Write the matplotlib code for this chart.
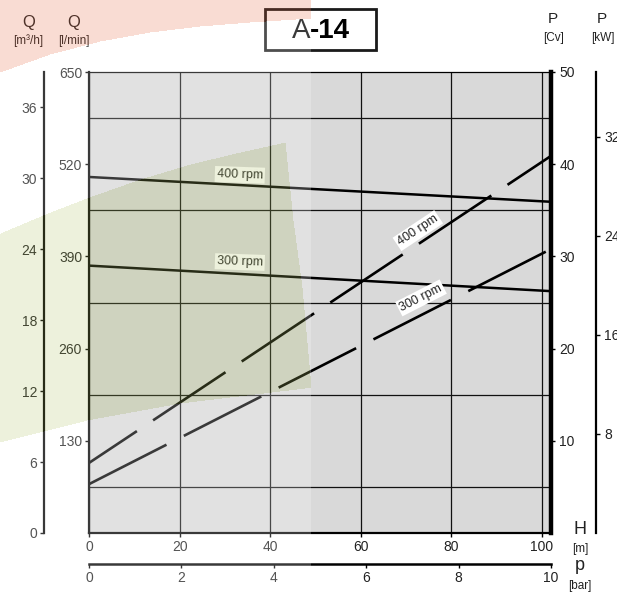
import numpy as np
import matplotlib
matplotlib.use("Agg")
import matplotlib.pyplot as plt
from matplotlib.patches import Rectangle

plt.rcParams["font.family"] = ["Liberation Sans", "DejaVu Sans"]
plt.rcParams["lines.scale_dashes"] = False

# --- data (curves are straight, so two ends each) ---
head_m = [0, 102]            # H [m] at left / right edge of the plot
flow_400 = [502, 467]        # Q [l/min]
flow_300 = [377, 341]
power_400 = [7.6, 40.9]      # P [Cv]
power_300 = [5.3, 30.8]

h_ticks = [0, 20, 40, 60, 80, 100]
p_ticks = [0, 2, 4, 6, 8, 10]
q_lmin_ticks = [130, 260, 390, 520, 650]
q_m3h_ticks = [0, 6, 12, 18, 24, 30, 36]
p_cv_ticks = [10, 20, 30, 40, 50]
p_kw_ticks = [8, 16, 24, 32]

W, H = 617, 594
TXT = "#222222"


def fx(px):
    return px / W


def fy(py):
    return 1 - py / H


fig = plt.figure(figsize=(W / 100, H / 100), dpi=100)
fig.patch.set_facecolor("white")

left, right, top, bot = 89, 551, 72, 533
ax = fig.add_axes([fx(left), fy(bot), (right - left) / W, (bot - top) / H])
ax.set_facecolor("#d9d9d9")
ax.set_xlim(0, 102)
ax.set_ylim(0, 650)

# grid
ax.set_xticks(h_ticks)
ax.set_yticks(q_lmin_ticks)
ax.set_yticks(np.arange(0, 651, 65), minor=True)
ax.grid(axis="x", which="major", color="#111111", lw=0.9)
ax.grid(axis="y", which="minor", color="#111111", lw=0.9)
ax.set_axisbelow(True)
ax.tick_params(axis="y", which="minor", length=0)
ax.tick_params(axis="y", which="major", direction="out", length=3, width=1,
               pad=2, labelsize=10, labelcolor=TXT)
ax.tick_params(axis="x", direction="out", length=3, width=1, pad=2,
               labelsize=10, labelcolor=TXT)
for s in ["left", "bottom"]:
    ax.spines[s].set_linewidth(1.6)
    ax.spines[s].set_color("black")
ax.spines["top"].set_linewidth(0.9)
ax.spines["right"].set_visible(False)

# flow curves
ax.plot(head_m, flow_400, color="black", lw=1.8, solid_capstyle="butt")
ax.plot(head_m, flow_300, color="black", lw=1.8, solid_capstyle="butt")
lbl = dict(ha="center", va="center", fontsize=9, color=TXT,
           bbox=dict(fc="white", ec="none", pad=1.4))
ax.text(33.3, 505, "400 rpm", rotation=-2, **lbl)
ax.text(33.3, 382, "300 rpm", rotation=-2, **lbl)

# power axis (Cv) on the right spine
ax2 = ax.twinx()
ax2.set_ylim(0, 50)
ax2.set_yticks(p_cv_ticks)
ax2.tick_params(axis="y", direction="out", length=3, width=1, pad=3,
                labelsize=10, labelcolor=TXT)
for s in ["left", "top", "bottom"]:
    ax2.spines[s].set_visible(False)
ax2.spines["right"].set_linewidth(3.2)
ax2.plot(head_m, power_400, color="black", lw=1.9,
         linestyle=(21.2, (62.6, 14.0)))
ax2.plot(head_m, power_300, color="black", lw=1.9,
         linestyle=(0, (62.6, 14.0)))
lbl2 = dict(ha="center", va="center", fontsize=9, color=TXT,
            rotation_mode="anchor",
            bbox=dict(fc="white", ec="none", pad=1.4))
ax2.text(72.6, 32.8, "400 rpm", rotation=33.6, **lbl2)
ax2.text(73.3, 25.5, "300 rpm", rotation=27, **lbl2)

# Q in m3/h (left outer axis)
axq = fig.add_axes([fx(44), fy(bot), 0.01, (bot - top) / H])
axq.set_ylim(0, 650 * 0.06)
axq.set_yticks(q_m3h_ticks)
axq.patch.set_visible(False)
axq.set_xticks([])
for s in ["right", "top", "bottom"]:
    axq.spines[s].set_visible(False)
axq.spines["left"].set_linewidth(1.6)
axq.tick_params(axis="y", direction="out", length=3, width=1, pad=2,
                labelsize=10, labelcolor=TXT)

# P in kW (right outer axis, labels run off the edge as in the original)
axk = fig.add_axes([fx(586), fy(bot), fx(596) - fx(586), (bot - top) / H])
axk.set_ylim(0, 50 * 0.745)
axk.yaxis.tick_right()
axk.set_yticks(p_kw_ticks)
axk.patch.set_visible(False)
axk.set_xticks([])
for s in ["left", "top", "bottom"]:
    axk.spines[s].set_visible(False)
axk.spines["right"].set_linewidth(1.6)
axk.tick_params(axis="y", direction="out", length=3, width=1, pad=3,
                labelsize=10, labelcolor=TXT)

# pressure axis p [bar] below
axp = fig.add_axes([fx(left), fy(564), (right - left) / W, 0.01])
axp.set_xlim(0, 10)
axp.set_xticks(p_ticks)
axp.set_yticks([])
axp.patch.set_visible(False)
for s in ["left", "top", "right"]:
    axp.spines[s].set_visible(False)
axp.spines["bottom"].set_linewidth(1.8)
axp.tick_params(axis="x", direction="out", length=3, width=1, pad=2,
                labelsize=10, labelcolor=TXT)

# axis titles
def label(x, y, s, size):
    fig.text(fx(x), fy(y), s, ha="center", va="center", fontsize=size,
             color=TXT)

label(29, 23, "Q", 12)
label(28, 41, "[m³/h]", 8.5)
label(74, 23, "Q", 12)
label(74, 41, "[l/min]", 8.5)
label(553, 19, "P", 11)
label(554, 38, "[Cv]", 8.5)
label(602, 19, "P", 11)
label(603, 38, "[kW]", 8.5)
label(580, 530, "H", 13)
label(580, 549, "[m]", 8.5)
label(580, 566, "p", 13)
label(580, 586, "[bar]", 8.5)

# title box
fig.add_artist(Rectangle((fx(265), fy(50)), (376 - 265) / W, (50 - 9) / H,
                         transform=fig.transFigure, fill=False,
                         ec="#1a1a1a", lw=2))
fig.text(fx(310), fy(31), "A", ha="right", va="center", fontsize=20,
         color="black")
fig.text(fx(310), fy(31), "-14", ha="left", va="center", fontsize=20,
         fontweight="bold", color="black")

# faded logo watermark over the left part
lw_, lh_ = 311, H
yy, xx = np.mgrid[0:lh_, 0:lw_]
logo = np.ones((lh_, lw_, 4))
logo[..., 3] = 0.23
pink = yy < np.interp(xx, [0, 50, 100, 150, 200, 250, 311],
                      [72, 54, 41, 32, 26, 22, 18])
green_top = np.interp(xx, [0, 50, 89, 140, 190, 240, 285, 311],
                      [233, 212, 197, 179, 164, 152, 142, 138])
green_bot = np.interp(xx, [0, 87, 180, 313], [442, 420, 403, 387])
green_edge = np.interp(yy, [142, 220, 287, 387], [285, 293, 302, 311])
green = (yy > green_top) & (yy < green_bot) & (xx < green_edge)
logo[pink, :3] = np.array([229, 103, 64]) / 255
logo[green, :3] = np.array([177, 194, 103]) / 255
fig.figimage(logo, xo=0, yo=0, origin="upper", zorder=10)

fig.savefig("out.png", dpi=100)
